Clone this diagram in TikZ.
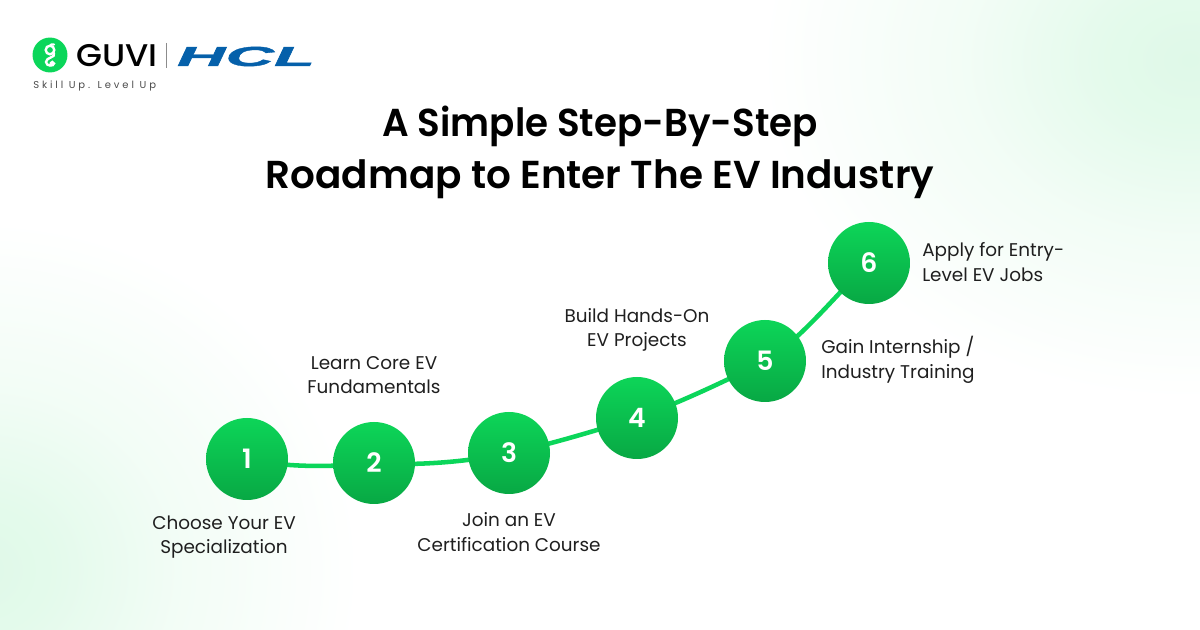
\documentclass[tikz,border=0pt]{standalone}
\usepackage{fontspec}
\setmainfont{Poppins}
\newfontfamily\titlefont{Poppins SemiBold}
\newfontfamily\lblfont{Poppins}
\newfontfamily\logofont{Poppins Medium}
\newfontfamily\hclfont{Liberation Sans}
\definecolor{evgreen}{HTML}{0BD65A}
\definecolor{circtop}{HTML}{0DD558}
\definecolor{circbot}{HTML}{08A844}
\definecolor{hclblue}{HTML}{0560AA}
\definecolor{tintgreen}{HTML}{DFF9E8}
\pgfdeclarelayer{roadlayer}
\pgfsetlayers{roadlayer,main}
\pgfdeclareradialshading{tintglow}{\pgfpoint{0bp}{0bp}}{%
  color(0bp)=(tintgreen);color(5bp)=(tintgreen!85!white);color(13bp)=(tintgreen!40!white);color(25bp)=(white);color(50bp)=(white)}
\tikzset{
  stepcircle/.style={circle,minimum size=61.5pt,inner sep=0pt,top color=circtop,bottom color=circbot,text=white,font=\titlefont\fontsize{20}{24}\selectfont},
  steplabel/.style={align=center,inner sep=0pt,text=black!88,font=\lblfont\fontsize{13.8}{18.4}\selectfont},
  roadline/.style={evgreen,line width=3.4pt},
  titletext/.style={font=\titlefont\fontsize{29.2}{39}\selectfont,text=black,align=center}
}
\begin{document}
\begin{tikzpicture}[x=0.75pt,y=-0.75pt]
\useasboundingbox (0,0) rectangle (1200,630);
\begin{pgfonlayer}{roadlayer}
\begin{scope}
\clip (0,0) rectangle (1200,630);
\fill[white] (0,0) rectangle (1200,630);
\shade[shading=tintglow] (1190,60) ellipse (430 and 340);
\shade[shading=tintglow] (-20,570) ellipse (380 and 350);
\end{scope}
\end{pgfonlayer}
% logo
\node[circle,fill=evgreen,minimum size=26.2pt,inner sep=0pt] (lg) at (50,55) {};
\draw[white,line width=1.8pt,line cap=round] (50,50) circle (4.3);
\draw[white,line width=1.8pt,line cap=round] (51,44.5) -- (54,44.5) (54,53) .. controls (56,58) and (46,57) .. (46,62) .. controls (46,66.5) and (54,66.5) .. (54,63.5) .. controls (54,61.5) and (50.5,61.5) .. (50.5,63.5);
\node[font=\logofont\fontsize{23.5}{26}\selectfont,text=black,anchor=west,inner sep=0pt] (guvi) at (76,56) {\scalebox{1.07}[1]{GUVI}};
\coordinate (sep1) at (166.5,43);
\coordinate (sep2) at (166.5,68);
\draw[black!45,line width=0.6pt] (sep1) -- (sep2);
\node[font=\hclfont\bfseries\itshape\fontsize{24}{26}\selectfont,text=hclblue,inner sep=0pt] (hcl) at (246,56.5) {\addfontfeature{FakeBold=1.2}\scalebox{2.1}[0.86]{HCL}};
\node[font=\lblfont\fontsize{7.5}{9}\selectfont,text=black!70,anchor=west,inner sep=0pt] (tag) at (33,86) {\addfontfeature{LetterSpace=29}Skill Up. Level Up};
% title
\node[titletext] (title) at (600,152) {\scalebox{0.956}[1]{A Simple Step-By-Step}\\Roadmap to Enter The EV Industry};
% steps
\node[stepcircle] (s1) at (247,459) {1};
\node[stepcircle] (s2) at (374,463) {2};
\node[stepcircle] (s3) at (509,453) {3};
\node[stepcircle] (s4) at (637,418) {4};
\node[stepcircle] (s5) at (765,361) {5};
\node[stepcircle] (s6) at (869,263) {6};
\begin{pgfonlayer}{roadlayer}
\draw[roadline] (s1.center) .. controls +(40,9) and +(-40,4) .. (s2.center)
  .. controls +(40,3) and +(-40,9) .. (s3.center)
  .. controls +(40,-8) and +(-40,12) .. (s4.center)
  .. controls +(40,-14) and +(-35,18) .. (s5.center)
  .. controls +(35,-20) and +(-30,28) .. (s6.center);
\end{pgfonlayer}
\node[steplabel] (l1) at (224,537) {Choose Your EV\\Specialization};
\node[steplabel] (l2) at (374,375) {Learn Core EV\\Fundamentals};
\node[steplabel] (l3) at (509,532) {Join an EV\\Certification Course};
\node[steplabel] (l4) at (637,330) {Build Hands-On\\EV Projects};
\node[steplabel,align=left,anchor=west] (l5) at (821,360) {Gain Internship /\\Industry Training};
\node[steplabel,align=left,anchor=west] (l6) at (922,262) {Apply for Entry-\\Level EV Jobs};
\end{tikzpicture}
\end{document}
